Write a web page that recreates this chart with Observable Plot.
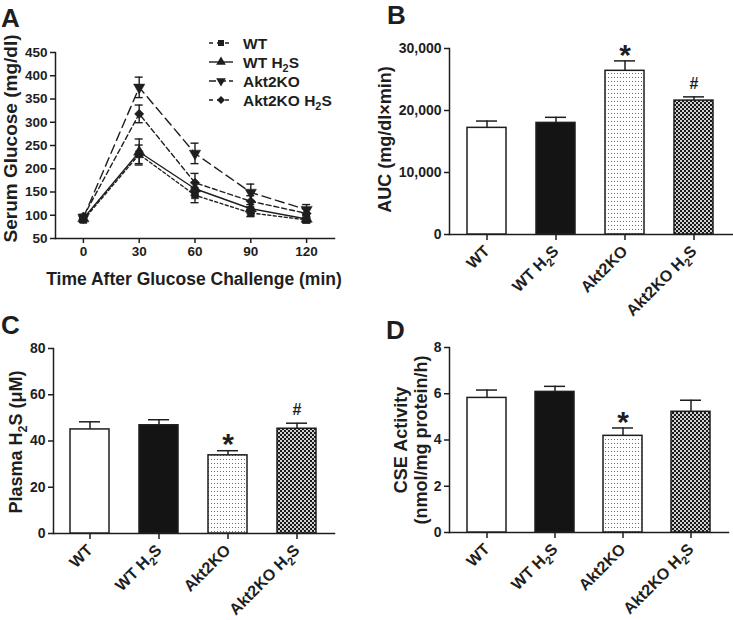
<!DOCTYPE html>
<html>
<head>
<meta charset="utf-8">
<script src="https://cdn.jsdelivr.net/npm/d3@7"></script>
<script src="https://cdn.jsdelivr.net/npm/@observablehq/plot@0.6"></script>
<style>
  html, body { margin: 0; padding: 0; background: #fff; }
  #fig { position: relative; width: 733px; height: 620px; overflow: hidden; background: #fff;
         font-family: 'Liberation Sans', Arial, Helvetica, sans-serif; color: #1e1e1e; }
  .panel { position: absolute; }
  .letter { position: absolute; font-size: 26px; font-weight: bold; line-height: 1; }
</style>
</head>
<body>
<div id="fig"></div>
<script>
// ---------------- DATA ----------------
const times = [0, 30, 60, 90, 120];
const groups = ["WT", "WT H₂S", "Akt2KO", "Akt2KO H₂S"];

// Panel A: serum glucose (mg/dl), mean and SEM per time point
const glucoseWT        = [90, 231, 143, 105, 90];
const glucoseWTsem     = [5, 20, 16, 8, 6];
const glucoseWTH2S     = [93, 236, 157, 114, 92];
const glucoseWTH2Ssem  = [5, 28, 14, 9, 8];
const glucoseKO        = [95, 375, 233, 149, 112];
const glucoseKOsem     = [5, 22, 22, 18, 11];
const glucoseKOH2S     = [97, 318, 170, 130, 104];
const glucoseKOH2Ssem  = [5, 19, 20, 12, 10];
const glucoseTicks = [50, 100, 150, 200, 250, 300, 350, 400, 450];

// Panel B: AUC
const aucMean = [17200, 18000, 26400, 21600];
const aucSem  = [1100, 900, 1600, 600];
const aucSig  = ["", "", "*", "#"];
const aucTicks = [0, 10000, 20000, 30000];

// Panel C: plasma H2S (µM)
const h2sMean = [45.0, 46.8, 33.8, 45.3];
const h2sSem  = [3.3, 2.4, 2.0, 2.4];
const h2sSig  = ["", "", "*", "#"];
const h2sTicks = [0, 20, 40, 60, 80];

// Panel D: CSE activity
const cseMean = [5.82, 6.08, 4.18, 5.22];
const cseSem  = [0.34, 0.24, 0.34, 0.50];
const cseSig  = ["", "", "*", ""];
const cseTicks = [0, 2, 4, 6, 8];

// Titles
const titleA_y = "Serum Glucose (mg/dl)";
const titleA_x = "Time After Glucose Challenge (min)";
const titleB_y = "AUC (mg/dl×min)";
const titleC_y = "Plasma H₂S (μM)";
const titleD_y = "CSE Activity\n(nmol/mg protein/h)";

// ---------------- STYLE ----------------
const FONT = "'Liberation Sans', Arial, Helvetica, sans-serif";
const INK = "#1e1e1e";
const barFills = ["#ffffff", "#141414", "url(#dotsPat)", "url(#checkPat)"];
const seriesStyle = [
  {symbol: "square",   rotate: 0,   dash: "3,2.5", r: 4,   legendDash: "4,4"},
  {symbol: "triangle", rotate: 0,   dash: null,    r: 4.2, legendDash: null},
  {symbol: "triangle", rotate: 180, dash: "9,5",   r: 4.2, legendDash: "7,3"},
  {symbol: "diamond2", rotate: 0,   dash: "5,3",   r: 4.2, legendDash: "4,4"}
];
const baseStyle = {fontFamily: FONT, fontWeight: "bold", fontSize: "13px", color: INK,
                   background: "transparent", overflow: "visible"};

const fig = document.getElementById("fig");

// Pattern defs shared by all panels
const defsSvg = d3.create("svg").attr("width", 0).attr("height", 0)
  .style("position", "absolute").style("left", 0).style("top", 0);
const defs = defsSvg.append("defs");
const dp = defs.append("pattern").attr("id", "dotsPat").attr("patternUnits", "userSpaceOnUse")
  .attr("width", 3).attr("height", 4);
dp.append("rect").attr("width", 3).attr("height", 4).attr("fill", "#fff");
dp.append("rect").attr("x", 1).attr("y", 1).attr("width", 1).attr("height", 1).attr("fill", "#6a6a6a");
const cp = defs.append("pattern").attr("id", "checkPat").attr("patternUnits", "userSpaceOnUse")
  .attr("width", 4).attr("height", 4);
cp.append("rect").attr("width", 4).attr("height", 4).attr("fill", "#d0d0d0");
cp.append("rect").attr("x", 0).attr("y", 0).attr("width", 2).attr("height", 2).attr("fill", "#1a1a1a");
cp.append("rect").attr("x", 2).attr("y", 2).attr("width", 2).attr("height", 2).attr("fill", "#1a1a1a");
fig.appendChild(defsSvg.node());

// Turn "₂" into a real subscript tspan
function subscriptify(root) {
  const walker = document.createTreeWalker(root, NodeFilter.SHOW_TEXT);
  const nodes = [];
  while (walker.nextNode()) if (walker.currentNode.nodeValue.includes("₂")) nodes.push(walker.currentNode);
  const NS = "http://www.w3.org/2000/svg";
  for (const node of nodes) {
    const parent = node.parentNode;
    const parts = node.nodeValue.split("₂");
    const frag = document.createDocumentFragment();
    parts.forEach((p, k) => {
      if (k > 0) {
        const sub = document.createElementNS(NS, "tspan");
        sub.setAttribute("font-size", "70%");
        sub.setAttribute("dy", "0.4em");
        sub.textContent = "2";
        frag.appendChild(sub);
        const rest = document.createElementNS(NS, "tspan");
        rest.setAttribute("dy", "-0.28em");
        rest.textContent = p;
        frag.appendChild(rest);
      } else if (p) {
        frag.appendChild(document.createTextNode(p));
      }
    });
    parent.replaceChild(frag, node);
  }
}

function place(node, left, top) {
  const wrap = document.createElement("div");
  wrap.className = "panel";
  wrap.style.left = left + "px";
  wrap.style.top = top + "px";
  wrap.appendChild(node);
  fig.appendChild(wrap);
  subscriptify(node);
  return wrap;
}
function letter(txt, left, top) {
  const d = document.createElement("div");
  d.className = "letter";
  d.textContent = txt;
  d.style.left = left + "px";
  d.style.top = top + "px";
  fig.appendChild(d);
}

// ---------------- PANEL A ----------------
const gMeans = [glucoseWT, glucoseWTH2S, glucoseKO, glucoseKOH2S];
const gSems = [glucoseWTsem, glucoseWTH2Ssem, glucoseKOsem, glucoseKOH2Ssem];
const glucoseRows = groups.map((name, si) =>
  times.map((t, ti) => ({series: name, t, v: gMeans[si][ti], s: gSems[si][ti]})));

const marksA = [
  Plot.frame({anchor: "left", strokeWidth: 1.5, stroke: INK}),
  Plot.frame({anchor: "bottom", strokeWidth: 1.5, stroke: INK}),
  Plot.axisY({ticks: glucoseTicks, tickSize: 5, tickPadding: 3, strokeWidth: 1.5, label: null, fontSize: 13.5}),
  Plot.axisX({ticks: times, tickSize: 5, tickPadding: 3, strokeWidth: 1.5, label: null, fontSize: 13.5})
];
glucoseRows.forEach((rows, si) => {
  const st = seriesStyle[si];
  marksA.push(Plot.line(rows, {x: "t", y: "v", stroke: INK, strokeWidth: 1.4,
    strokeDasharray: st.dash || undefined}));
});
glucoseRows.forEach((rows) => {
  marksA.push(Plot.ruleX(rows, {x: "t", y1: d => d.v - d.s, y2: d => d.v + d.s, stroke: INK, strokeWidth: 1.4}));
  marksA.push(Plot.ruleY(rows, {x1: "t", x2: "t", y: d => d.v + d.s, insetLeft: -4, insetRight: -4, stroke: INK, strokeWidth: 1.4}));
  marksA.push(Plot.ruleY(rows, {x1: "t", x2: "t", y: d => d.v - d.s, insetLeft: -4, insetRight: -4, stroke: INK, strokeWidth: 1.4}));
});
glucoseRows.forEach((rows, si) => {
  const st = seriesStyle[si];
  marksA.push(Plot.dot(rows, {x: "t", y: "v", symbol: st.symbol, r: st.r, rotate: st.rotate,
    fill: INK, stroke: INK, strokeWidth: 0.5}));
});
marksA.push(Plot.text([titleA_y], {frameAnchor: "left", textAnchor: "middle", lineAnchor: "middle",
  rotate: -90, dx: -45, dy: -7, fontSize: 19, fontWeight: "bold", text: d => d}));
marksA.push(Plot.text([titleA_x], {frameAnchor: "bottom", textAnchor: "middle", lineAnchor: "middle",
  dy: 41, dx: -1, fontSize: 17.5, fontWeight: "bold", text: d => d}));

const plotA = Plot.plot({
  width: 370, height: 300,
  marginLeft: 55, marginRight: 36, marginTop: 52, marginBottom: 62,
  style: baseStyle,
  x: {domain: [-15, 135]},
  y: {domain: [50, 450]},
  marks: marksA
});
place(plotA, 0, 0);

// Legend for panel A
(function () {
  const lg = d3.create("svg").attr("width", 160).attr("height", 100)
    .style("overflow", "visible")
    .attr("font-family", FONT).attr("font-weight", "bold").attr("font-size", 15.5).attr("fill", INK);
  groups.forEach((name, i) => {
    const st = seriesStyle[i];
    const y = 12 + i * 19;
    lg.append("line").attr("x1", 0).attr("x2", 24).attr("y1", y).attr("y2", y)
      .attr("stroke", INK).attr("stroke-width", 1.4)
      .attr("stroke-dasharray", st.legendDash);
    const size = Math.PI * (st.r - 0.6) * (st.r - 0.6);
    const sym = st.symbol === "square" ? d3.symbolSquare : st.symbol === "triangle" ? d3.symbolTriangle : d3.symbolDiamond2;
    lg.append("path").attr("d", d3.symbol(sym, size)())
      .attr("transform", `translate(12,${y}) rotate(${st.rotate})`).attr("fill", INK);
    lg.append("text").attr("x", 34).attr("y", y).attr("dy", "0.36em").text(name);
  });
  place(lg.node(), 209, 31);
})();
letter("A", 1, 5);

// ---------------- BAR PANELS ----------------
function barPanel(opts) {
  const rows = groups.map((g, i) => ({g, v: opts.mean[i], s: opts.sem[i], sig: opts.sig[i], fill: barFills[i]}));
  return Plot.plot({
    width: opts.width, height: opts.height,
    marginLeft: opts.ml, marginRight: opts.mr, marginTop: opts.mt, marginBottom: opts.mb,
    style: {...baseStyle, fontSize: "14px"},
    x: {type: "band", domain: groups, paddingInner: 0.43, paddingOuter: 0.24, align: 0.5},
    y: {domain: opts.domain},
    color: {type: "identity"},
    marks: [
      Plot.frame({anchor: "left", strokeWidth: 1.5, stroke: INK}),
      Plot.frame({anchor: "bottom", strokeWidth: 1.5, stroke: INK}),
      Plot.axisY({ticks: opts.ticks, tickFormat: opts.fmt, tickSize: 5, tickPadding: 3, strokeWidth: 1.5, label: null, fontSize: 14}),
      Plot.axisX({tickRotate: -45, tickSize: 6, tickPadding: 8, strokeWidth: 1.5, label: null, fontSize: 16}),
      Plot.ruleX(rows, {x: "g", y1: "v", y2: d => d.v + d.s, stroke: INK, strokeWidth: 1.5}),
      Plot.tickY(rows, {x: "g", y: d => d.v + d.s, insetLeft: 9, insetRight: 9, stroke: INK, strokeWidth: 1.5}),
      Plot.barY(rows, {x: "g", y: "v", fill: "fill", stroke: INK, strokeWidth: 1.5}),
      Plot.text(rows.filter(d => d.sig === "*"), {x: "g", y: d => d.v + d.s, text: "sig", fontSize: 30, fontWeight: "bold", dy: -6}),
      Plot.text(rows.filter(d => d.sig === "#"), {x: "g", y: d => d.v + d.s, text: "sig", fontSize: 16, fontWeight: "bold", dy: -13}),
      Plot.text([opts.title], {frameAnchor: "left", textAnchor: "middle", lineAnchor: "middle",
        rotate: -90, dx: opts.tdx, dy: opts.tdy,
        fontSize: 18, fontWeight: "bold", lineHeight: 1.12, text: d => d})
    ]
  });
}

const plotB = barPanel({width: 363, height: 310, ml: 79, mr: 1, mt: 48, mb: 76,
  mean: aucMean, sem: aucSem, sig: aucSig, domain: [0, 30000], ticks: aucTicks, fmt: d3.format(","),
  title: titleB_y, tdx: -65, tdy: -2});
place(plotB, 370, 0);
letter("B", 387, 2);

const plotC = barPanel({width: 370, height: 310, ml: 53, mr: 36, mt: 38, mb: 87,
  mean: h2sMean, sem: h2sSem, sig: h2sSig, domain: [0, 80], ticks: h2sTicks, fmt: d3.format("d"),
  title: titleC_y, tdx: -38, tdy: 1});
place(plotC, 0, 310);
letter("C", 1, 312);

const plotD = barPanel({width: 363, height: 310, ml: 79, mr: 5, mt: 37, mb: 88,
  mean: cseMean, sem: cseSem, sig: cseSig, domain: [0, 8], ticks: cseTicks, fmt: d3.format("d"),
  title: titleD_y, tdx: -39, tdy: 0});
place(plotD, 370, 310);
letter("D", 386, 317);
</script>
</body>
</html>
